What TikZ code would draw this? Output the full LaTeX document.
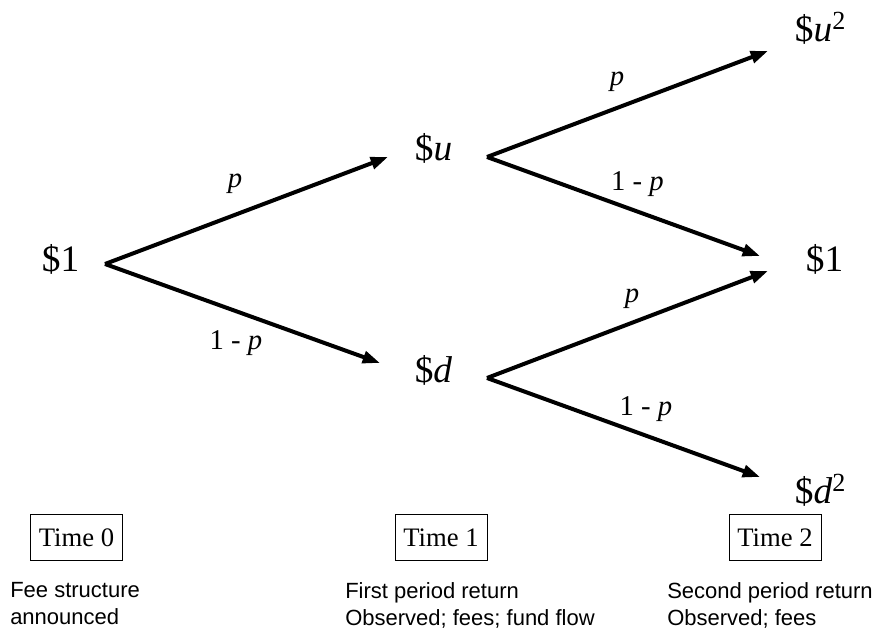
\documentclass[tikz,border=0pt]{standalone}
\usepackage{fontspec}
\setmainfont{Liberation Serif}
\newfontfamily\arialfont{Liberation Sans}
\usetikzlibrary{arrows.meta}
\tikzset{
  val/.style={font=\fontsize{28}{32}\selectfont, inner sep=0pt, anchor=base},
  prob/.style={font=\fontsize{21.5}{24}\selectfont, inner sep=0pt, anchor=base},
  br/.style={line width=3pt, -{Triangle[length=13pt,width=9pt]}},
  timebox/.style={draw, line width=0.75pt, font=\fontsize{20}{24}\selectfont, minimum width=69pt, minimum height=35pt, inner sep=0pt},
  note/.style={font=\arialfont\fontsize{16.5}{20.25}\selectfont, align=left, anchor=north west, inner sep=0pt}
}
\begin{document}
\begin{tikzpicture}[x=0.75pt,y=-0.75pt]
\useasboundingbox (0,0) rectangle (879,634);
% value nodes
\node[val] (a0) at (60.5,272) {\$1};
\node[val] (u1) at (433.5,161) {\$\textit{u}};
\node[val] (d1) at (433.5,383) {\$\textit{d}};
\node[val] (uu) at (820.5,42) {\$\textit{u}\textsuperscript{2}};
\node[val] (ud) at (824.5,272) {\$1};
\node[val] (dd) at (820.5,504) {\$\textit{d}\textsuperscript{2}};
% arrow end points
\coordinate (a0s) at (105,264);
\coordinate (u1in) at (388,157);
\coordinate (d1in) at (380,363);
\coordinate (u1s) at (487,157);
\coordinate (d1s) at (487,378);
\coordinate (uuin) at (768,51);
\coordinate (udin1) at (760,256);
\coordinate (udin2) at (768,271);
\coordinate (ddin) at (760,477);
\draw[br] (a0s) -- (u1in);
\draw[br] (a0s) -- (d1in);
\draw[br] (u1s) -- (uuin);
\draw[br] (u1s) -- (udin1);
\draw[br] (d1s) -- (udin2);
\draw[br] (d1s) -- (ddin);
% probability labels
\node[prob] (p1) at (235,188) {\textit{p}};
\node[prob] (q1) at (236,350) {1 - \textit{p}};
\node[prob] (p2) at (617,86) {\textit{p}};
\node[prob] (q2) at (637.5,191) {1 - \textit{p}};
\node[prob] (p3) at (632,303) {\textit{p}};
\node[prob] (q3) at (646,416) {1 - \textit{p}};
% time boxes
\node[timebox] (t0) at (76.5,537.5) {Time 0};
\node[timebox] (t1) at (441,537.5) {Time 1};
\node[timebox] (t2) at (775,537.5) {Time 2};
% notes
\node[note] (n0) at (10,582) {Fee structure\\announced};
\node[note] (n1) at (345,582) {First period return\\Observed; fees; fund flow};
\node[note] (n2) at (667,582) {Second period return\\Observed; fees};
\end{tikzpicture}
\end{document}
